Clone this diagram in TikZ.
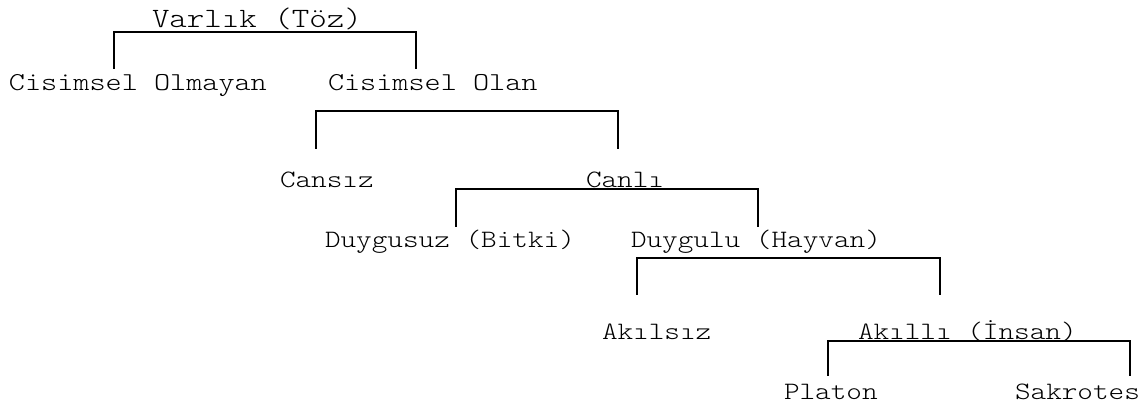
\documentclass[tikz,border=0pt]{standalone}
\usepackage{fontspec}
\newfontfamily\courlt{Latin Modern Mono Light}[FakeStretch=1.19]
\begin{document}
\begin{tikzpicture}[x=1pt,y=-1pt,
  lbl/.style={inner sep=0pt,outer sep=0pt,anchor=base west,text=black,
    font=\courlt\fontsize{25pt}{30pt}\selectfont},
  toplbl/.style={lbl,font=\courlt\fontsize{28pt}{32pt}\selectfont},
  midlbl/.style={lbl,font=\courlt\fontsize{25.8pt}{30pt}\selectfont},
  brk/.style={draw=black,line width=2pt,line cap=rect}]
\useasboundingbox (0,0) rectangle (1148,403);
% text nodes
\node[toplbl] (varlik) at (152,28) {Varlık (Töz)};
\node[midlbl] (cismsz) at (9,91) {Cisimsel Olmayan};
\node[midlbl] (cism) at (328,91) {Cisimsel Olan};
\node[lbl] (cansiz) at (280,188) {Cansız};
\node[lbl] (canli) at (586,188) {Canlı};
\node[lbl] (duysuz) at (325,248) {Duygusuz (Bitki)};
\node[lbl] (duylu) at (631,248) {Duygulu (Hayvan)};
\node[lbl] (akilsiz) at (602,339) {Akılsız};
\node[lbl] (akilli) at (858,339) {Akıllı (İnsan)};
\node[lbl] (platon) at (784,399) {Platon};
\node[lbl] (sakrotes) at (1015,399) {Sakrotes};
% bracket end points
\coordinate (b1l) at (114,68);  \coordinate (b1r) at (416,68);
\coordinate (b2l) at (316,148); \coordinate (b2r) at (618,148);
\coordinate (b3l) at (456,226); \coordinate (b3r) at (758,226);
\coordinate (b4l) at (637,294); \coordinate (b4r) at (940,294);
\coordinate (b5l) at (828,375); \coordinate (b5r) at (1130,375);
% brackets
\draw[brk] (b1l) -- ++(0,-36) -| (b1r);
\draw[brk] (b2l) -- ++(0,-37) -| (b2r);
\draw[brk] (b3l) -- ++(0,-37) -| (b3r);
\draw[brk] (b4l) -- ++(0,-36) -| (b4r);
\draw[brk] (b5l) -- ++(0,-34) -| (b5r);
\end{tikzpicture}
\end{document}
